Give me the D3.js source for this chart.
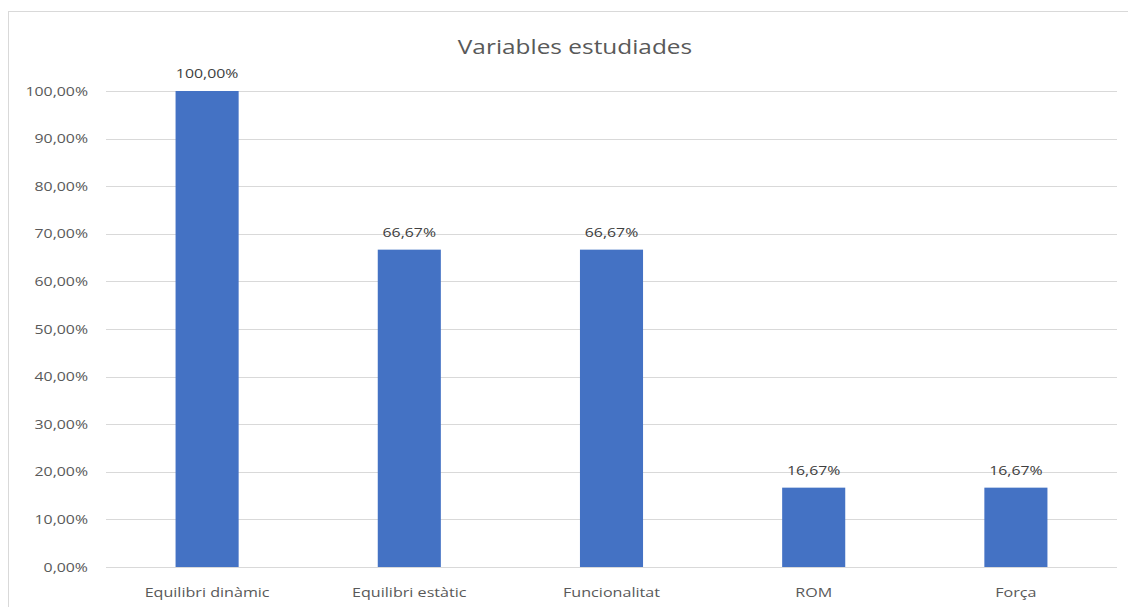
<!DOCTYPE html>
<html>
<head>
<meta charset="utf-8">
<script src="https://cdn.jsdelivr.net/npm/d3@7"></script>
<style>
  html, body { margin: 0; padding: 0; background: #fff; }
  svg { display: block; }
  text { font-family: "Open Sans", "Liberation Sans", sans-serif; }
</style>
</head>
<body>
<svg id="chart" width="1128" height="607"></svg>
<script>
// Share of studies that measured each variable
const categories = ["Equilibri dinàmic", "Equilibri estàtic", "Funcionalitat", "ROM", "Força"];
const values = [1.0, 0.6667, 0.6667, 0.1667, 0.1667];
const yTicks = [0, 0.1, 0.2, 0.3, 0.4, 0.5, 0.6, 0.7, 0.8, 0.9, 1.0];
const title = "Variables estudiades";

const W = 1128, H = 607;
const margin = { left: 106, right: 11, top: 91, bottom: 40 };
const svg = d3.select("#chart");

// Catalan number formatting: comma decimal separator
const locale = d3.formatLocale({ decimal: ",", thousands: ".", grouping: [3], currency: ["", " €"] });
const pct = locale.format(".2%");

// Chart frame
svg.append("rect")
  .attr("x", 8.5).attr("y", 11.5)
  .attr("width", W).attr("height", H)
  .attr("fill", "none").attr("stroke", "#d9d9d9").attr("stroke-width", 1);

const x = d3.scaleBand()
  .domain(categories)
  .range([margin.left, W - margin.right])
  .paddingInner(0.688).paddingOuter(0.344);

const y = d3.scaleLinear()
  .domain([0, 1])
  .range([H - margin.bottom, margin.top]);

// Horizontal gridlines
svg.append("g")
  .selectAll("line")
  .data(yTicks)
  .join("line")
  .attr("x1", margin.left).attr("x2", W - margin.right)
  .attr("y1", d => Math.round(y(d)) + 0.5).attr("y2", d => Math.round(y(d)) + 0.5)
  .attr("stroke", "#d9d9d9").attr("stroke-width", 1);

// Y axis labels
const yAxis = d3.axisLeft(y).tickValues(yTicks).tickFormat(pct).tickSize(0).tickPadding(0);
const gy = svg.append("g")
  .attr("transform", `translate(${margin.left - 18},0)`)
  .call(yAxis);
gy.select(".domain").remove();
gy.selectAll("text")
  .attr("fill", "#595959")
  .style("font-size", "13px")
  .attr("transform", "scale(1.22,1)");

// Bars
svg.append("g")
  .selectAll("rect")
  .data(categories)
  .join("rect")
  .attr("x", d => x(d))
  .attr("width", x.bandwidth())
  .attr("y", (d, i) => y(values[i]))
  .attr("height", (d, i) => y(0) - y(values[i]))
  .attr("fill", "#4472c4");

// Value labels above bars
svg.append("g")
  .selectAll("text")
  .data(categories)
  .join("text")
  .attr("transform", (d, i) => `translate(${x(d) + x.bandwidth() / 2},${y(values[i]) - 13}) scale(1.22,1)`)
  .attr("text-anchor", "middle")
  .attr("fill", "#404040")
  .style("font-size", "13px")
  .text((d, i) => pct(values[i]));

// Category axis
const xAxis = d3.axisBottom(x).tickSize(0).tickPadding(0);
const gx = svg.append("g")
  .attr("transform", `translate(0,${y(0) + 21})`)
  .call(xAxis);
gx.select(".domain").remove();
gx.selectAll("text")
  .attr("fill", "#595959")
  .style("font-size", "13px")
  .attr("dy", "0.71em")
  .attr("transform", "scale(1.24,1)");

// Title
svg.append("text")
  .attr("transform", `translate(575,54) scale(1.22,1)`)
  .attr("text-anchor", "middle")
  .attr("fill", "#595959")
  .style("font-size", "20px")
  .text(title);
</script>
</body>
</html>
